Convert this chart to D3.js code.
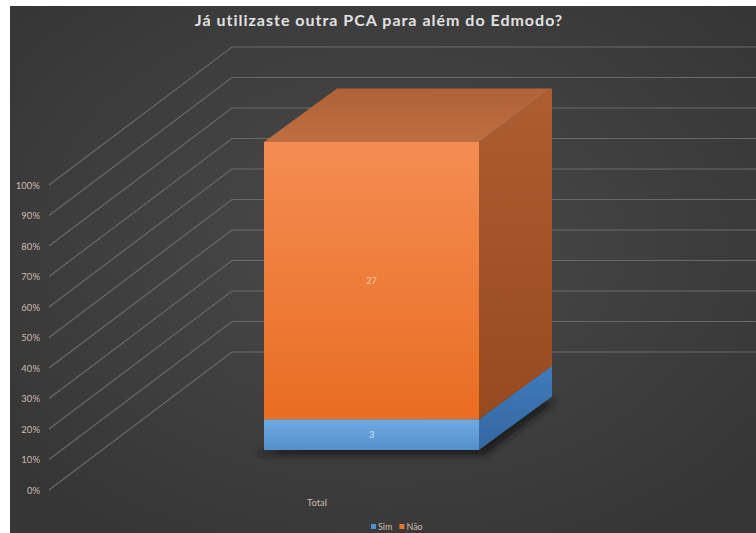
<!DOCTYPE html>
<html><head><meta charset="utf-8">
<script src="https://cdnjs.cloudflare.com/ajax/libs/d3/7.8.5/d3.min.js"></script>
<style>html,body{margin:0;padding:0;background:#fff;}svg{display:block;}</style>
</head><body>
<script>
const title = "Já utilizaste outra PCA para além do Edmodo?";
const categories = ["Total"];
const seriesNames = ["Sim", "Não"];
const seriesValues = [[3], [27]];
const tickLabels = ["0%","10%","20%","30%","40%","50%","60%","70%","80%","90%","100%"];
const tickValues = [0,0.1,0.2,0.3,0.4,0.5,0.6,0.7,0.8,0.9,1];

(function(){
const W = 756, H = 533;
const svg = d3.select("body").append("svg").attr("width", W).attr("height", H);
const defs = svg.append("defs");

// background
const bg = defs.append("radialGradient").attr("id","bg").attr("cx","50%").attr("cy","45%").attr("r","65%");
bg.append("stop").attr("offset","0%").attr("stop-color","#4a4a4a");
bg.append("stop").attr("offset","100%").attr("stop-color","#363636");
svg.append("rect").attr("x",10).attr("y",6).attr("width",W-10).attr("height",H-6).attr("fill","url(#bg)");

function lin(id, c1, c2, x2, y2){
  const g = defs.append("linearGradient").attr("id",id).attr("x1",0).attr("y1",0).attr("x2",x2||0).attr("y2",y2===undefined?1:y2);
  g.append("stop").attr("offset","0%").attr("stop-color",c1);
  g.append("stop").attr("offset","100%").attr("stop-color",c2);
}
lin("oFront","#f48d53","#e96d22");
lin("oSide","#ac5e31","#984a1f");
lin("oTop","#b06238","#bd6f40");
lin("bFront","#6eaae2","#5690cc");
lin("bSide","#3f7bbb","#3467a0");
const sh = defs.append("filter").attr("id","shadow").attr("x","-20%").attr("y","-20%").attr("width","140%").attr("height","140%");
sh.append("feGaussianBlur").attr("stdDeviation",3);

// wall scales
const wallFrontX = 49, wallBackX = 232;
const yWallFront = d3.scaleLinear().domain([0,1]).range([490,185]);
const depthDY = 138;
const yWallBack = v => yWallFront(v) - depthDY;

// gridlines
const grid = svg.append("g").attr("stroke","#6c6868").attr("stroke-width",1.2).attr("fill","none");
tickValues.forEach(v=>{
  grid.append("path").attr("d",`M${wallFrontX},${yWallFront(v)}L${wallBackX},${yWallBack(v)}L${W},${yWallBack(v)}`);
});

// y tick labels
svg.append("g").selectAll("text").data(tickValues).join("text")
  .attr("x",40).attr("y",d=>yWallFront(d)+3.5).attr("text-anchor","end")
  .attr("font-family","Lato, 'Open Sans', sans-serif").attr("font-size",9.5).attr("fill","#cdbab2")
  .text((d,i)=>tickLabels[i]);

// bar
const x = d3.scaleBand().domain(categories).range([264,479]).paddingInner(0).paddingOuter(0);
const yBar = d3.scaleLinear().domain([0,1]).range([450,142]);
const bdx = 73, bdy = 53.5;
const total = seriesValues.reduce((s,a)=>s+a[0],0);
const stack = [];
let acc = 0;
seriesValues.forEach((vals,i)=>{ stack.push({name:seriesNames[i], v:vals[0], y0:acc/total, y1:(acc+vals[0])/total}); acc+=vals[0]; });

const bars = svg.append("g");
const x0 = x(categories[0]), x1 = x0 + x.bandwidth();
// shadow
bars.append("path").attr("d",`M${x0-6},${yBar(0)+3}L${x1+bdx+6},${yBar(0)-bdy+3}L${x1+6},${yBar(0)+5}L${x0-6},${yBar(0)+5}Z`)
  .attr("fill","#151515").attr("opacity",0.8).attr("filter","url(#shadow)");
const fronts = {Sim:"url(#bFront)", "Não":"url(#oFront)"};
const sides = {Sim:"url(#bSide)", "Não":"url(#oSide)"};
stack.forEach(s=>{
  const yt = yBar(s.y1), yb = yBar(s.y0);
  bars.append("path").attr("d",`M${x1},${yb}L${x1+bdx},${yb-bdy}L${x1+bdx},${yt-bdy}L${x1},${yt}Z`).attr("fill",sides[s.name]);
  bars.append("rect").attr("x",x0).attr("y",yt).attr("width",x1-x0).attr("height",yb-yt).attr("fill",fronts[s.name]);
});
const topSeg = stack[stack.length-1];
const yt = yBar(topSeg.y1);
bars.append("path").attr("d",`M${x0},${yt}L${x0+bdx},${yt-bdy}L${x1+bdx},${yt-bdy}L${x1},${yt}Z`).attr("fill","url(#oTop)");

// data labels
const labCol = {Sim:"#d6e6f7", "Não":"#f9cba9"};
stack.forEach(s=>{
  svg.append("text").attr("x",(x0+x1)/2).attr("y",(yBar(s.y0)+yBar(s.y1))/2+3.5)
    .attr("text-anchor","middle").attr("font-family","Lato, sans-serif").attr("font-size",9)
    .attr("fill",labCol[s.name]).text(s.v);
});

// category label
svg.append("text").attr("x",317).attr("y",506).attr("text-anchor","middle")
  .attr("font-family","Lato, 'Open Sans', sans-serif").attr("font-size",9.5).attr("fill","#cdbab2").text(categories[0]);

// title
svg.append("text").attr("x",379).attr("y",26).attr("text-anchor","middle")
  .attr("font-family","Lato, 'Open Sans', sans-serif").attr("font-weight","bold").attr("font-size",16)
  .attr("letter-spacing",1.0).attr("fill","#e2e2e2").text(title);

// legend
const legCols = {Sim:"#4f8fd0", "Não":"#ec7124"};
const leg = svg.append("g");
let lx = 371;
seriesNames.forEach(n=>{
  leg.append("rect").attr("x",lx).attr("y",524).attr("width",5).attr("height",5).attr("fill",legCols[n]);
  const t = leg.append("text").attr("x",lx+7).attr("y",530).attr("font-family","Lato, sans-serif").attr("font-size",9).attr("fill","#cdbab2").text(n);
  lx += 7 + t.node().getComputedTextLength() + 7;
});
})();
</script>
</body></html>
